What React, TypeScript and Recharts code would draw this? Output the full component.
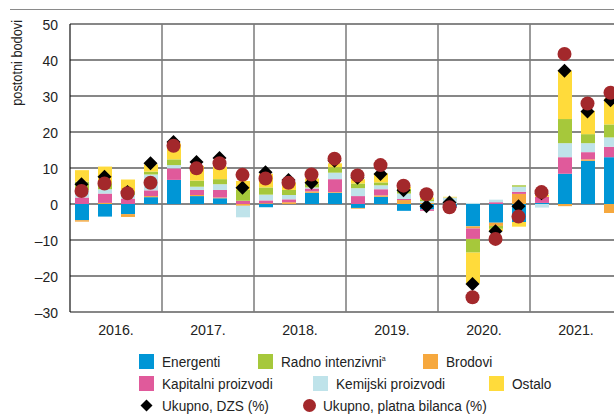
import React from 'react';
import { ComposedChart, Bar, Line, XAxis, YAxis, CartesianGrid, ReferenceLine } from 'recharts';

const quarters = [
  '2016Q1', '2016Q2', '2016Q3', '2016Q4',
  '2017Q1', '2017Q2', '2017Q3', '2017Q4',
  '2018Q1', '2018Q2', '2018Q3', '2018Q4',
  '2019Q1', '2019Q2', '2019Q3', '2019Q4',
  '2020Q1', '2020Q2', '2020Q3', '2020Q4',
  '2021Q1', '2021Q2', '2021Q3', '2021Q4',
];
const years = ['2016.', '2017.', '2018.', '2019.', '2020.', '2021.'];

const energenti = [-4.5, -3.5, -2.8, 1.9, 6.7, 2.2, 1.6, 0, -0.9, 0, 3.1, 3.1, -1.1, 2.0, -1.9, -1.5, -0.8, -6.2, -5.2, -5.0, 0.3, 8.4, 12.0, 13.0];
const brodovi = [-0.4, 0.3, -0.8, 0.3, 0, 0.3, 0.2, -0.5, 0.2, 0.5, 0.4, 0.2, -0.2, 0.4, 1.1, 0.3, 0, -0.6, -0.9, 2.8, 0, -0.6, 0.4, -2.5];
const kapitalni = [1.8, 2.6, 1.5, 1.6, 3.2, 1.4, 2.1, 0.9, 0.8, 0.8, 0.8, 3.6, 2.2, 1.7, 0.3, -0.4, -0.3, -2.9, 0.5, 0.6, 1.7, 4.6, 2.0, 2.9];
const kemijski = [2.0, 1.2, 1.0, 4.4, 0.9, 0.9, 1.6, -3.2, 1.6, 1.2, 0.3, 1.8, 2.2, 1.1, 1.5, 0.5, 1.8, 0.3, 0.7, 1.4, -1.0, 3.9, 2.5, 2.6];
const radno = [2.4, 1.5, 0.8, 0.8, 1.6, 1.7, 1.4, 3.0, 2.0, 1.4, 1.0, 1.5, 1.3, 0.8, 1.3, 0.5, 0, -3.8, -0.8, 0.4, 0, 6.7, 2.5, 3.6];
const ostalo = [3.2, 4.8, 3.5, 2.0, 4.4, 4.1, 3.5, 2.5, 3.8, 2.0, 1.5, 1.1, 1.2, 2.5, 0.6, 0.5, 0.2, -8.6, -0.6, -1.3, 0.6, 13.4, 6.5, 7.2];
const ukupnoDZS = [5.5, 7.6, 3.3, 11.3, 17.2, 11.7, 12.8, 4.5, 8.8, 6.7, 5.9, 12.0, 7.3, 8.3, 3.8, -0.6, 0.4, -22.2, -7.6, -0.6, 3.0, 37.0, 25.7, 28.8];
const ukupnoBOP = [3.6, 5.7, 3.0, 5.9, 16.2, 9.9, 11.3, 8.1, 7.1, 5.9, 8.2, 12.6, 7.9, 10.8, 5.1, 2.7, -0.9, -25.9, -9.7, -3.5, 3.3, 41.7, 27.9, 30.9];
const yTicks = [-30, -20, -10, 0, 10, 20, 30, 40, 50];

const series = [
  { key: 'energenti', name: 'Energenti', color: '#0096d6', values: energenti },
  { key: 'brodovi', name: 'Brodovi', color: '#f6a83e', values: brodovi },
  { key: 'kapitalni', name: 'Kapitalni proizvodi', color: '#e05a9b', values: kapitalni },
  { key: 'kemijski', name: 'Kemijski proizvodi', color: '#bfe3ea', values: kemijski },
  { key: 'radno', name: 'Radno intenzivni', color: '#a6c83b', values: radno },
  { key: 'ostalo', name: 'Ostalo', color: '#ffdb3b', values: ostalo },
];

const data = quarters.map((q, i) => {
  const row: Record<string, string | number> = { q, year: years[Math.floor(i / 4)], dzs: ukupnoDZS[i], bop: ukupnoBOP[i] };
  series.forEach((s) => { row[s.key] = s.values[i]; });
  return row;
});

const FONT = "'Liberation Sans', Arial, sans-serif";
const TXT = '#222';
const DIAMOND = '#000000';
const CIRCLE = '#a3282b';

const Diamond = (props: any) => {
  const { cx, cy, index } = props;
  if (cx == null || cy == null) return <g key={`d${index}`} />;
  return <polygon key={`d${index}`} points={`${cx},${cy - 7} ${cx + 7},${cy} ${cx},${cy + 7} ${cx - 7},${cy}`} fill={DIAMOND} />;
};
const CircleDot = (props: any) => {
  const { cx, cy, index } = props;
  if (cx == null || cy == null) return <g key={`c${index}`} />;
  return <circle key={`c${index}`} cx={cx} cy={cy} r={7} fill={CIRCLE} />;
};

const YTick = (props: any) => {
  const { x, y, payload } = props;
  const v = payload.value as number;
  const label = v < 0 ? '\u2013' + Math.abs(v) : String(v);
  return (
    <text transform={`translate(${x},${y}) scale(0.9,1)`} textAnchor="end" dy="0.36em" fontSize={15.5} fill={TXT} fontFamily={FONT}>{label}</text>
  );
};
const YearTick = (props: any) => {
  const { x, y, payload } = props;
  return (
    <text transform={`translate(${x},${y}) scale(0.92,1)`} textAnchor="middle" dy="0.71em" fontSize={15.5} fill={TXT} fontFamily={FONT}>{payload.value}</text>
  );
};

const colorOf = (k: string) => series.find((s) => s.key === k)!.color;

const legendSquares = [
  { key: 'energenti', label: 'Energenti', left: 139, top: 361 },
  { key: 'radno', label: 'Radno intenzivni', left: 258, top: 361, sup: 'a' },
  { key: 'brodovi', label: 'Brodovi', left: 423, top: 361 },
  { key: 'kapitalni', label: 'Kapitalni proizvodi', left: 139, top: 383 },
  { key: 'kemijski', label: 'Kemijski proizvodi', left: 313, top: 383 },
  { key: 'ostalo', label: 'Ostalo', left: 489, top: 383 },
];

const textStyle: React.CSSProperties = {
  marginLeft: 8, fontSize: 15.5, lineHeight: '15px', display: 'inline-block', transform: 'scaleX(0.88)', transformOrigin: 'left center',
};

export default function App() {
  return (
    <div style={{ position: 'fixed', left: 0, top: 0, width: 614, height: 415, overflow: 'hidden', background: '#fff', fontFamily: FONT, color: TXT }}>
      <div style={{ position: 'absolute', left: 10, top: 9, width: 604, height: 0, borderTop: '1.5px solid #8a8a8a' }} />
      <div style={{ position: 'absolute', left: 0, top: 0 }}>
        <ComposedChart width={640} height={415} data={data} margin={{ top: 24, right: 18, bottom: 73, left: 0 }} stackOffset="sign" barSize={14}>
          <CartesianGrid vertical={false} stroke="#111" strokeWidth={1.2} />
          <XAxis dataKey="q" hide height={0} />
          <XAxis xAxisId="years" dataKey="year" allowDuplicatedCategory={false} axisLine={false} tickLine={false}
            tick={<YearTick />} tickMargin={6} height={30} interval={0} />
          <YAxis domain={[-30, 50]} ticks={yTicks} width={70} interval={0} axisLine={{ stroke: '#111', strokeWidth: 1.2 }}
            tickLine={false} tickSize={10} tickMargin={2} tick={<YTick />} />
          {years.slice(1).map((y) => (
            <ReferenceLine key={y} xAxisId="years" x={y} position="start" stroke="#7a7a7a" strokeWidth={1.5} />
          ))}
          {series.map((s) => (
            <Bar key={s.key} dataKey={s.key} name={s.name} stackId="a" fill={s.color} isAnimationActive={false} />
          ))}
          <Line dataKey="dzs" name="Ukupno, DZS (%)" stroke="none" dot={Diamond} activeDot={false} isAnimationActive={false} />
          <Line dataKey="bop" name="Ukupno, platna bilanca (%)" stroke="none" dot={CircleDot} activeDot={false} isAnimationActive={false} />
        </ComposedChart>
      </div>
      <svg style={{ position: 'absolute', left: 0, top: 0 }} width={40} height={130}>
        <text transform="translate(22,20) rotate(-90) scale(0.88,1)" textAnchor="end" fontSize={14.5} fill={TXT} fontFamily={FONT}>postotni bodovi</text>
      </svg>
      {legendSquares.map((l) => (
        <div key={l.key} style={{ position: 'absolute', left: l.left, top: l.top - 7.5, height: 15, display: 'flex', alignItems: 'center', whiteSpace: 'nowrap' }}>
          <div style={{ width: 15, height: 15, background: colorOf(l.key), flex: 'none' }} />
          <span style={textStyle}>
            {l.label}
            {l.sup ? <sup style={{ fontSize: 8, verticalAlign: 'super', lineHeight: 0 }}>{l.sup}</sup> : null}
          </span>
        </div>
      ))}
      <div style={{ position: 'absolute', left: 139, top: 405 - 7.5, height: 15, display: 'flex', alignItems: 'center', whiteSpace: 'nowrap' }}>
        <svg width={15} height={15} style={{ flex: 'none' }}><polygon points="7.5,1.5 13.5,7.5 7.5,13.5 1.5,7.5" fill={DIAMOND} /></svg>
        <span style={textStyle}>Ukupno, DZS (%)</span>
      </div>
      <div style={{ position: 'absolute', left: 302, top: 405 - 7.5, height: 15, display: 'flex', alignItems: 'center', whiteSpace: 'nowrap' }}>
        <svg width={15} height={15} style={{ flex: 'none' }}><circle cx={7.5} cy={7.5} r={6.5} fill={CIRCLE} /></svg>
        <span style={{ ...textStyle, marginLeft: 6 }}>Ukupno, platna bilanca (%)</span>
      </div>
    </div>
  );
}
